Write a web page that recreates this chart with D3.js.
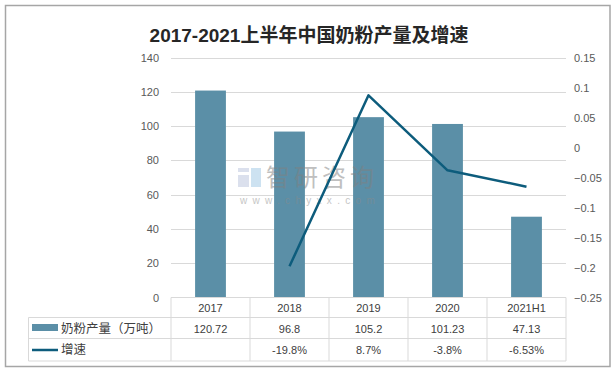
<!DOCTYPE html>
<html>
<head>
<meta charset="utf-8">
<script src="https://cdn.jsdelivr.net/npm/d3@7"></script>
<style>
  body { margin: 0; background: #fff; }
  text { font-family: "Liberation Sans", "Noto Sans CJK SC", sans-serif; }
</style>
</head>
<body>
<div class="chart"></div>
<script>
  var categories = ["2017", "2018", "2019", "2020", "2021H1"];
  var output = [120.72, 96.8, 105.2, 101.23, 47.13];
  var growth = [null, -0.198, 0.087, -0.038, -0.0653];
  var outputLabels = ["120.72", "96.8", "105.2", "101.23", "47.13"];
  var growthLabels = ["", "-19.8%", "8.7%", "-3.8%", "-6.53%"];
  var leftTicks = [0, 20, 40, 60, 80, 100, 120, 140];
  var rightTicks = [-0.25, -0.2, -0.15, -0.1, -0.05, 0, 0.05, 0.1, 0.15];

  var width = 615, height = 372;
  var plotLeft = 171, plotRight = 566;
  var plotTop = 57.5, plotBottom = 297.5;
  var legendLeft = 28.5;
  var rowLines = [297.5, 317.5, 338.5, 361];

  var barColor = "#5b8fa7";
  var lineColor = "#0d5c7c";

  var svg = d3.select(".chart").append("svg")
    .attr("width", width)
    .attr("height", height);

  // outer frame
  svg.append("rect")
    .attr("x", 5.5).attr("y", 5.5)
    .attr("width", 604.5).attr("height", 361)
    .attr("fill", "#fff")
    .attr("stroke", "#a6a6a6")
    .attr("stroke-width", 1.5);

  svg.append("text")
    .attr("x", 309).attr("y", 42)
    .attr("text-anchor", "middle")
    .attr("font-size", 19)
    .attr("font-weight", "bold")
    .attr("fill", "#262626")
    .text("2017-2021上半年中国奶粉产量及增速");

  var xS = d3.scaleBand().domain(categories).range([plotLeft, plotRight]).padding(0);
  var yL = d3.scaleLinear().domain([0, 140]).range([plotBottom, plotTop]);
  var yR = d3.scaleLinear().domain([-0.25, 0.15]).range([plotBottom, plotTop]);

  // gridlines
  svg.selectAll(".grid")
    .data(leftTicks.filter(function(d){ return d > 0; }))
    .enter()
    .append("line")
    .attr("class", "grid")
    .attr("x1", plotLeft).attr("x2", plotRight)
    .attr("y1", function(d){ return Math.round(yL(d)) + 0.5; })
    .attr("y2", function(d){ return Math.round(yL(d)) + 0.5; })
    .attr("stroke", "#d9d9d9")
    .attr("stroke-width", 1);

  // left axis labels
  svg.selectAll(".ltick")
    .data(leftTicks)
    .enter()
    .append("text")
    .attr("class", "ltick")
    .attr("x", 159)
    .attr("y", function(d){ return yL(d) + 4; })
    .attr("text-anchor", "end")
    .attr("font-size", 11)
    .attr("fill", "#595959")
    .text(function(d){ return d; });

  // right axis labels
  svg.selectAll(".rtick")
    .data(rightTicks)
    .enter()
    .append("text")
    .attr("class", "rtick")
    .attr("x", 574)
    .attr("y", function(d){ return yR(d) + 4; })
    .attr("font-size", 11)
    .attr("fill", "#595959")
    .text(function(d){ return d3.format("")(+d.toFixed(2)); });

  // bars
  var barW = xS.bandwidth() * 0.39;
  svg.selectAll(".bar")
    .data(output)
    .enter()
    .append("rect")
    .attr("class", "bar")
    .attr("x", function(d, i){ return xS(categories[i]) + (xS.bandwidth() - barW) / 2; })
    .attr("y", function(d){ return yL(d); })
    .attr("width", barW)
    .attr("height", function(d){ return yL(0) - yL(d); })
    .attr("fill", barColor);

  // watermark, sits over the bars
  var wm = svg.append("g").attr("opacity", 0.5);
  wm.append("rect").attr("x", 238).attr("y", 168).attr("width", 11).attr("height", 4).attr("fill", "#b8c3dc");
  wm.append("rect").attr("x", 238).attr("y", 175).attr("width", 11).attr("height", 12).attr("fill", "#b8c3dc");
  wm.append("rect").attr("x", 251).attr("y", 168).attr("width", 10).attr("height", 19).attr("fill", "#9cc6e4");
  wm.append("text").attr("x", 266).attr("y", 186)
    .attr("font-size", 24).attr("fill", "#808080").attr("letter-spacing", 4)
    .text("智研咨询");
  wm.append("text").attr("x", 240).attr("y", 204)
    .attr("font-size", 10).attr("fill", "#8c8c8c").attr("letter-spacing", 5.3)
    .text("www.chyxx.com");

  // growth line
  var line = d3.line()
    .defined(function(d){ return d !== null; })
    .x(function(d, i){ return xS(categories[i]) + xS.bandwidth() / 2; })
    .y(function(d){ return yR(d); });

  svg.append("path")
    .datum(growth)
    .attr("d", line)
    .attr("fill", "none")
    .attr("stroke", lineColor)
    .attr("stroke-width", 2.5)
    .attr("stroke-linejoin", "round");

  // data table
  var tbl = svg.append("g").attr("stroke", "#d9d9d9").attr("stroke-width", 1);
  tbl.append("line").attr("x1", plotLeft).attr("x2", plotRight).attr("y1", rowLines[0]).attr("y2", rowLines[0]);
  rowLines.slice(1).forEach(function(y){
    tbl.append("line").attr("x1", legendLeft).attr("x2", plotRight).attr("y1", y).attr("y2", y);
  });
  tbl.append("line").attr("x1", legendLeft).attr("x2", legendLeft).attr("y1", rowLines[1]).attr("y2", rowLines[3]);
  categories.forEach(function(c){
    tbl.append("line").attr("x1", xS(c)).attr("x2", xS(c)).attr("y1", rowLines[0]).attr("y2", rowLines[3]);
  });
  tbl.append("line").attr("x1", plotRight).attr("x2", plotRight).attr("y1", rowLines[0]).attr("y2", rowLines[3]);

  function cellRow(labels, y) {
    svg.selectAll(null)
      .data(labels)
      .enter()
      .append("text")
      .attr("x", function(d, i){ return xS(categories[i]) + xS.bandwidth() / 2; })
      .attr("y", y)
      .attr("text-anchor", "middle")
      .attr("font-size", 11)
      .attr("fill", "#404040")
      .text(function(d){ return d; });
  }
  cellRow(categories, 312);
  cellRow(outputLabels, 333);
  cellRow(growthLabels, 354);

  // legend keys
  svg.append("rect").attr("x", 32).attr("y", 324).attr("width", 26).attr("height", 7).attr("fill", barColor);
  svg.append("line").attr("x1", 32).attr("x2", 58).attr("y1", 350).attr("y2", 350)
    .attr("stroke", lineColor).attr("stroke-width", 2.5);
  svg.append("text").attr("x", 61).attr("y", 333).attr("font-size", 12.5).attr("fill", "#404040").text("奶粉产量（万吨）");
  svg.append("text").attr("x", 61).attr("y", 354).attr("font-size", 12.5).attr("fill", "#404040").text("增速");
</script>
</body>
</html>
